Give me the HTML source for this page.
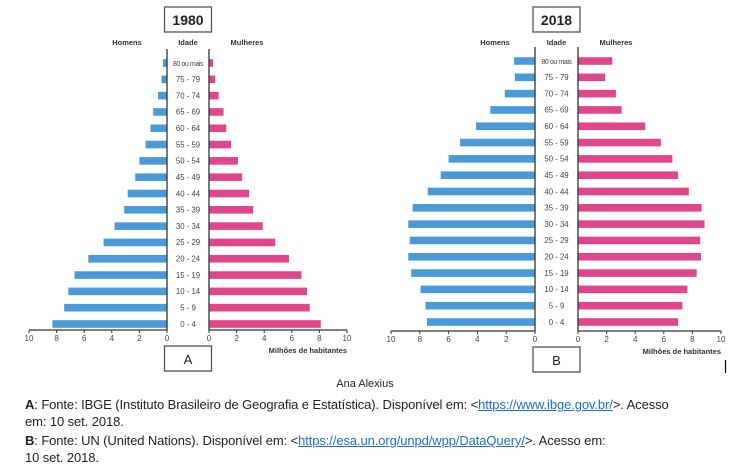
<!DOCTYPE html>
<html><head><meta charset="utf-8"><style>
body{margin:0;background:#fff;width:750px;height:472px;overflow:hidden;font-family:"Liberation Sans",sans-serif}
svg{position:absolute;left:0;top:0}
.src{position:absolute;left:25px;font-size:13px;line-height:17px;color:#222;white-space:nowrap;letter-spacing:-0.1px}
</style></head><body>
<svg id="chart" width="750" height="472" xmlns="http://www.w3.org/2000/svg"></svg>
<script>
const ageGroups=["80 ou mais","75 - 79","70 - 74","65 - 69","60 - 64","55 - 59","50 - 54","45 - 49","40 - 44","35 - 39","30 - 34","25 - 29","20 - 24","15 - 19","10 - 14","5 - 9","0 - 4"];
const men1980=[0.3,0.4,0.65,1.0,1.2,1.55,2.0,2.3,2.85,3.1,3.8,4.6,5.7,6.7,7.15,7.45,8.3];
const women1980=[0.3,0.45,0.7,1.05,1.25,1.6,2.1,2.4,2.9,3.2,3.9,4.8,5.8,6.7,7.1,7.3,8.1];
const men2018=[1.45,1.4,2.1,3.1,4.1,5.2,6.0,6.55,7.45,8.5,8.8,8.7,8.8,8.6,7.95,7.6,7.5];
const women2018=[2.4,1.9,2.65,3.05,4.7,5.8,6.6,7.0,7.75,8.65,8.85,8.55,8.6,8.3,7.65,7.3,7.0];
const tickLabels=["0","2","4","6","8","10"];
const tickValues=[0,2,4,6,8,10];

const NS="http://www.w3.org/2000/svg";
const svg=document.getElementById('chart');
function mk(tag,attrs,parent,text){const e=document.createElementNS(NS,tag);for(const k in attrs)e.setAttribute(k,attrs[k]);if(text!==undefined)e.textContent=text;(parent||svg).appendChild(e);return e;}

function pyramid(cfg,men,women,key){
  const g=mk('g',{});
  
  
  const sL=v=>cfg.l0-v*(cfg.l0-cfg.l10)/10;
  const sR=v=>cfg.r0+v*(cfg.r10-cfg.r0)/10;
  const yRow=i=>cfg.yTop+i*(cfg.yBot-cfg.yTop)/(ageGroups.length-1);
  const cx=(cfg.l0+cfg.r0)/2;
  const tb=mk('rect',{x:cx-23.5,y:7,width:47,height:25,fill:'#fff',stroke:'#555','stroke-width':1.3},g);
  
  
  const tt=mk('text',{x:cx,y:25,'text-anchor':'middle','font-size':14,'font-weight':'bold',fill:'#222'},g,cfg.year);
  
  
  const h1=mk('text',{x:cfg.l0-40,y:45,'text-anchor':'middle','font-size':7.5,'font-weight':'bold',fill:'#333'},g,'Homens');
  
  
  const h2=mk('text',{x:cx,y:45,'text-anchor':'middle','font-size':7.5,'font-weight':'bold',fill:'#333'},g,'Idade');
  
  
  const h3=mk('text',{x:cfg.r0+38,y:45,'text-anchor':'middle','font-size':7.5,'font-weight':'bold',fill:'#333'},g,'Mulheres');
  
  
  ageGroups.forEach((a,i)=>{
    const y=yRow(i);
    const bm=mk('rect',{x:sL(men[i]),y:y-3.8,width:cfg.l0-sL(men[i]),height:7.6,fill:'#4a9ad8'},g);
    
    
    const bw=mk('rect',{x:cfg.r0,y:y-3.8,width:sR(women[i])-cfg.r0,height:7.6,fill:'#e0478a'},g);
    
    
    const lb=mk('text',{x:cx,y:y+2.8,'text-anchor':'middle','font-size':i==0?7:7.8,fill:'#444','letter-spacing':i==0?-0.4:0},g,a);
    
    
  });
  mk('line',{x1:cfg.l0,x2:cfg.l0,y1:cfg.yTop-14,y2:cfg.axisY,stroke:'#333','stroke-width':1.3},g);
  mk('line',{x1:cfg.r0,x2:cfg.r0,y1:cfg.yTop-14,y2:cfg.axisY,stroke:'#333','stroke-width':1.3},g);
  const ax1=mk('line',{x1:cfg.l10,x2:cfg.l0,y1:cfg.axisY,y2:cfg.axisY,stroke:'#333','stroke-width':1.2},g);
  
  
  const ax2=mk('line',{x1:cfg.r0,x2:cfg.r10,y1:cfg.axisY,y2:cfg.axisY,stroke:'#333','stroke-width':1.2},g);
  
  
  tickValues.forEach((v,j)=>{
    [sL(v),sR(v)].forEach(x=>{
      mk('line',{x1:x,x2:x,y1:cfg.axisY,y2:cfg.axisY+3,stroke:'#333','stroke-width':1},g);
      const t=mk('text',{x:x,y:cfg.axisY+11,'text-anchor':'middle','font-size':8,fill:'#444'},g,tickLabels[j]);
      
      
    });
  });
  const xt=mk('text',{x:cfg.r10,y:cfg.axisY+23,'text-anchor':'end','font-size':7.5,'font-weight':'bold',fill:'#333'},g,'Milhões de habitantes');
  
  
  const lbx=mk('rect',{x:cx-23.5,y:cfg.axisY+16,width:47,height:25,fill:'#fff',stroke:'#555','stroke-width':1.3},g);
  
  
  const lt=mk('text',{x:cx,y:cfg.axisY+34,'text-anchor':'middle','font-size':13,fill:'#222'},g,key);
  
  
}
pyramid({year:'1980',l0:167,l10:29,r0:209,r10:347,yTop:63,yBot:324,axisY:330},men1980,women1980,'A');
pyramid({year:'2018',l0:535,l10:391,r0:578,r10:721,yTop:61,yBot:322,axisY:331},men2018,women2018,'B');
mk('line',{x1:725.5,x2:725.5,y1:360,y2:373,stroke:'#000','stroke-width':1.2});
</script>
<div style="position:absolute;left:0;top:378px;width:730px;text-align:center;font-size:11px;color:#222">Ana Alexius</div>
<div class="src" style="top:396px"><b>A</b>: Fonte: IBGE (Instituto Brasileiro de Geografia e Estatística). Disponível em: &lt;<a style="color:#1a6fd0;text-decoration:underline">https://www.ibge.gov.br/</a>&gt;. Acesso<br>em: 10 set. 2018.</div>
<div class="src" style="top:432px"><b>B</b>: Fonte: UN (United Nations). Disponível em: &lt;<a style="color:#1a6fd0;text-decoration:underline">https://esa.un.org/unpd/wpp/DataQuery/</a>&gt;. Acesso em:<br>10 set. 2018.</div>
</body></html>
